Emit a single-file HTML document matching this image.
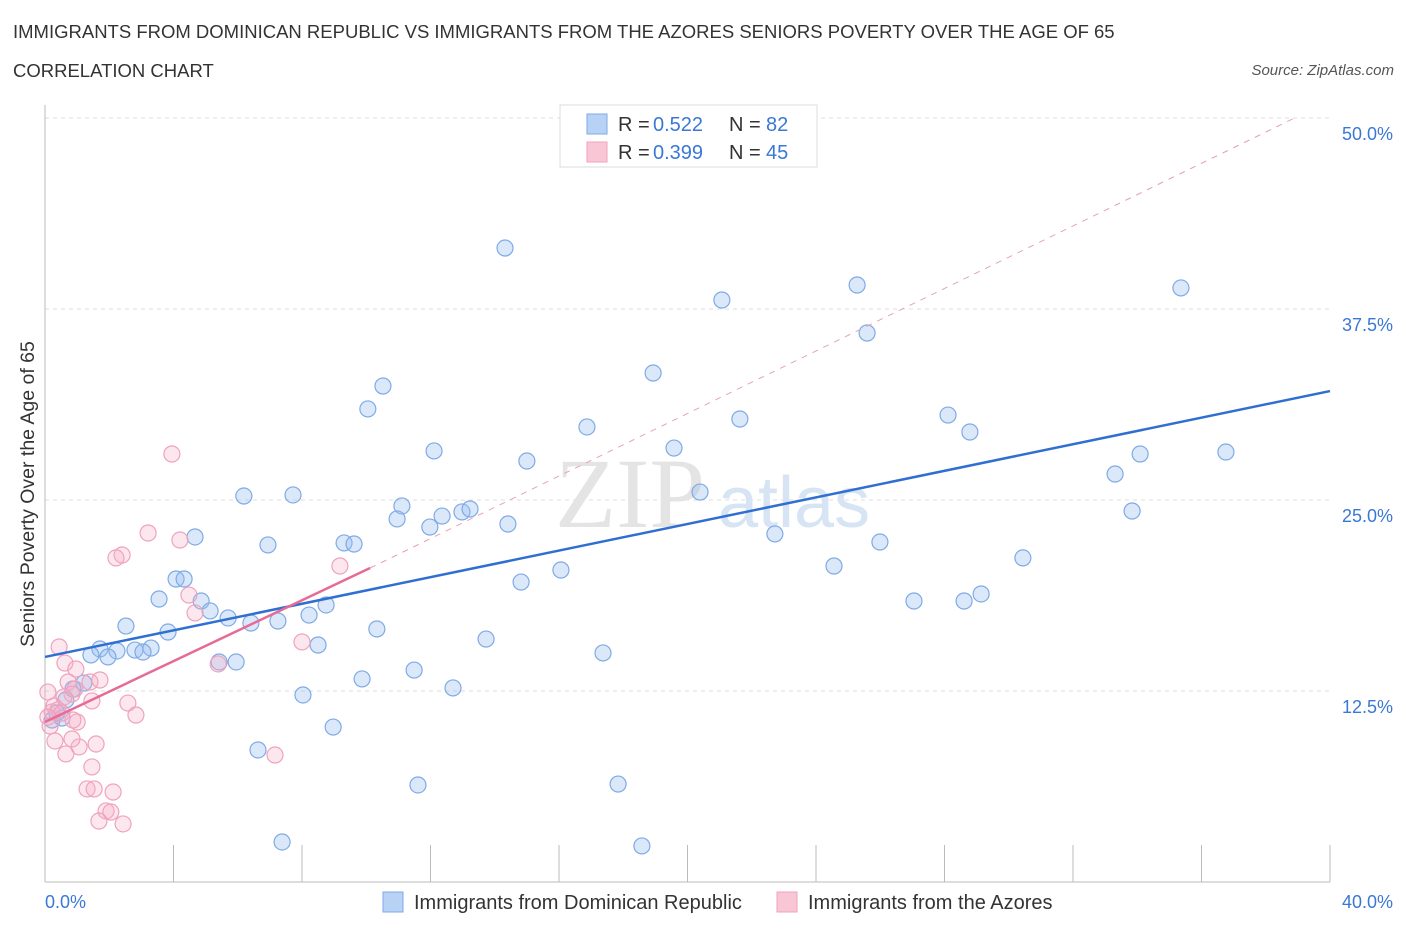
<!DOCTYPE html>
<html><head><meta charset="utf-8">
<style>
body{margin:0;background:#fff;font-family:"Liberation Sans",sans-serif;}
#wrap{position:relative;width:1406px;height:930px;overflow:hidden;}
.t{position:absolute;white-space:nowrap;}
</style></head><body>
<div id="wrap">
<div class="t" style="left:13px;top:21px;font-size:18.5px;color:#333;">IMMIGRANTS FROM DOMINICAN REPUBLIC VS IMMIGRANTS FROM THE AZORES SENIORS POVERTY OVER THE AGE OF 65</div>
<div class="t" style="left:13px;top:60px;font-size:18.5px;color:#333;">CORRELATION CHART</div>
<div class="t" style="right:12px;top:62px;font-size:15px;color:#555;font-style:italic;">Source: ZipAtlas.com</div>
<svg id="svg" width="1406" height="930" style="position:absolute;left:0;top:0"></svg>
</div>
<script>
const blueX=[14.32,21.07,25.28,35.36,25.59,10.52,18.93,10.05,21.63,28.11,16.87,28.79,12.11,19.58,15.00,34.09,36.76,33.31,20.39,6.19,7.72,11.11,10.96,12.36,12.98,13.23,11.98,14.41,33.84,22.72,4.67,6.94,9.31,9.62,25.99,30.44,16.06,24.56,14.82,4.08,4.33,3.55,4.86,8.75,5.14,5.70,8.22,6.41,7.25,27.05,28.61,29.14,2.52,10.33,3.83,13.73,8.50,1.71,2.24,2.80,3.30,3.05,1.43,1.96,17.37,5.42,5.95,11.49,9.87,1.21,0.87,12.70,8.03,0.65,0.37,0.22,0.53,8.97,6.63,11.61,17.84,7.38,18.58];
const blueY=[41.49,38.09,39.07,38.88,35.93,32.46,33.31,30.96,30.30,30.56,29.78,29.45,28.21,28.40,27.55,28.01,28.14,26.70,25.52,25.26,25.33,24.61,23.76,23.95,24.22,24.41,23.23,23.43,24.28,22.78,22.58,22.06,22.19,22.12,22.25,21.21,20.42,20.68,19.63,19.83,19.83,18.52,18.39,18.13,17.74,17.28,17.47,16.95,17.08,18.39,18.39,18.85,16.75,16.56,16.36,15.90,15.51,15.25,15.12,15.18,15.31,15.05,14.86,14.73,14.99,14.40,14.40,13.87,13.29,13.02,12.63,12.70,12.24,11.91,11.06,10.60,10.73,10.14,8.64,6.35,6.41,2.62,2.36];
const pinkX=[3.95,3.21,4.20,2.40,2.21,9.18,4.48,4.67,8.00,0.44,0.62,5.39,0.96,1.40,1.71,0.72,0.09,0.93,0.84,0.59,1.46,2.58,0.28,0.40,0.22,0.53,0.09,1.00,0.87,2.83,0.16,0.31,1.59,1.06,0.65,7.16,1.46,1.31,2.12,1.90,2.05,1.68,2.43,1.53,0.84];
const pinkY=[28.01,22.84,22.38,21.40,21.21,20.68,18.78,17.61,15.71,15.38,14.33,14.27,13.94,13.09,13.22,13.09,12.43,12.63,12.30,12.11,11.85,11.71,11.52,11.26,11.13,11.06,10.80,10.47,10.60,10.93,10.21,9.23,9.03,8.84,8.38,8.31,7.53,6.09,5.89,4.65,4.58,3.99,3.80,6.09,9.36];
const blueFit=[[0,14.73],[40,32.13]];
const pinkFit=[[0,10.47],[10.12,20.55]];
const pinkDash=[[10.12,20.55],[38.9,50]];
const yTicks=[12.5,25,37.5,50];
const yTickLabels=["12.5%","25.0%","37.5%","50.0%"];
const xTicks=[0,4,8,12,16,20,24,28,32,36,40];

const svg=document.getElementById('svg');
const NS='http://www.w3.org/2000/svg';
const X=v=>45+v/40*1285;
const Y=v=>882-v/50*764;
function mk(tag,attrs,name){const e=document.createElementNS(NS,tag);for(const k in attrs)e.setAttribute(k,attrs[k]);


svg.appendChild(e);return e;}
yTicks.forEach((v,i)=>{
 mk('line',{x1:45,x2:1330,y1:Y(v),y2:Y(v),stroke:'#ddd','stroke-dasharray':'4,4'},'y-gridline');
 const t=mk('text',{x:1393,y:Y(v)+22,'text-anchor':'end','font-size':18,fill:'#3a78d6','font-family':'Liberation Sans'},'y-tick-label');t.textContent=yTickLabels[i];
});
mk('line',{x1:45,x2:45,y1:105,y2:882,stroke:'#bbb'},'y-axis');
mk('line',{x1:45,x2:1330,y1:882,y2:882,stroke:'#bbb'},'x-axis');
xTicks.forEach(v=>mk('line',{x1:X(v),x2:X(v),y1:845,y2:882,stroke:'#bbb'},'x-tick'));
let t=mk('text',{x:45,y:908,'font-size':18,fill:'#3a78d6','font-family':'Liberation Sans'},'x-min-label');t.textContent='0.0%';
t=mk('text',{x:1393,y:908,'text-anchor':'end','font-size':18,fill:'#3a78d6','font-family':'Liberation Sans'},'x-max-label');t.textContent='40.0%';
t=mk('text',{x:0,y:0,transform:'translate(34,494) rotate(-90)','text-anchor':'middle','font-size':19.5,fill:'#333','font-family':'Liberation Sans'},'y-axis-title');t.textContent='Seniors Poverty Over the Age of 65';
t=mk('text',{x:555,y:527,'font-size':100,fill:'#e4e4e4','font-family':'Liberation Serif'},'watermark-zip');t.textContent='ZIP';
t=mk('text',{x:718,y:527,'font-size':72,fill:'#d6e4f4','font-family':'Liberation Sans'},'watermark-atlas');t.textContent='atlas';
blueX.forEach((x,i)=>mk('circle',{cx:X(x),cy:Y(blueY[i]),r:8,fill:'rgba(150,190,240,0.35)',stroke:'#7eaae6','stroke-width':1.2},'blue-point'));
pinkX.forEach((x,i)=>mk('circle',{cx:X(x),cy:Y(pinkY[i]),r:8,fill:'rgba(245,175,200,0.3)',stroke:'#f0a2bc','stroke-width':1.2},'pink-point'));
mk('line',{x1:X(pinkDash[0][0]),y1:Y(pinkDash[0][1]),x2:X(pinkDash[1][0]),y2:Y(pinkDash[1][1]),stroke:'#e8a0b4','stroke-dasharray':'6,6','stroke-width':1},'pink-trend-extension');
mk('line',{x1:X(blueFit[0][0]),y1:Y(blueFit[0][1]),x2:X(blueFit[1][0]),y2:Y(blueFit[1][1]),stroke:'#2f6fd1','stroke-width':2.5},'blue-trend-line');
mk('line',{x1:X(pinkFit[0][0]),y1:Y(pinkFit[0][1]),x2:X(pinkFit[1][0]),y2:Y(pinkFit[1][1]),stroke:'#e66b97','stroke-width':2.5},'pink-trend-line');
mk('rect',{x:560,y:105,width:257,height:62,fill:'#fff',stroke:'#ddd'},'legend-box');
mk('rect',{x:587,y:114,width:20,height:20,fill:'#b8d2f5',stroke:'#7eaae6'},'legend-blue-swatch');
mk('rect',{x:587,y:142,width:20,height:20,fill:'#f9c6d6',stroke:'#f0a2bc'},'legend-pink-swatch');
function lt(x,y,s,c,n){const e=mk('text',{x:x,y:y,'font-size':20,fill:c,'font-family':'Liberation Sans'},n);e.textContent=s;}
lt(618,131,'R =','#333','legend-r-label');lt(653,131,'0.522','#3a78d6','legend-blue-r');
lt(729,131,'N =','#333','legend-n-label');lt(766,131,'82','#3a78d6','legend-blue-n');
lt(618,159,'R =','#333','legend-r-label');lt(653,159,'0.399','#3a78d6','legend-pink-r');
lt(729,159,'N =','#333','legend-n-label');lt(766,159,'45','#3a78d6','legend-pink-n');
mk('rect',{x:383,y:892,width:20,height:20,fill:'#b8d2f5',stroke:'#7eaae6'},'bottom-legend-blue-swatch');
lt(414,909,'Immigrants from Dominican Republic','#333','bottom-legend-blue-label');
mk('rect',{x:777,y:892,width:20,height:20,fill:'#f9c6d6',stroke:'#f0a2bc'},'bottom-legend-pink-swatch');
lt(808,909,'Immigrants from the Azores','#333','bottom-legend-pink-label');
</script>
</body></html>
